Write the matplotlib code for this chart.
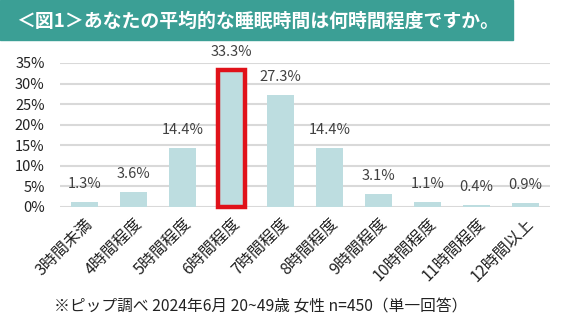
import matplotlib.pyplot as plt
from matplotlib.patches import Rectangle

plt.rcParams['font.family'] = ['Noto Sans CJK JP', 'DejaVu Sans']

categories = ['3時間未満', '4時間程度', '5時間程度', '6時間程度', '7時間程度',
              '8時間程度', '9時間程度', '10時間程度', '11時間程度', '12時間以上']
values = [1.3, 3.6, 14.4, 33.3, 27.3, 14.4, 3.1, 1.1, 0.4, 0.9]
yticks = [0, 5, 10, 15, 20, 25, 30, 35]
highlight = 3

title = '＜図1＞あなたの平均的な睡眠時間は何時間程度ですか。'
note = '※ピップ調べ 2024年6月 20~49歳 女性 n=450（単一回答）'

fig = plt.figure(figsize=(5.75, 3.3), dpi=100)

# title banner
fig.patches.append(Rectangle((0, 1 - 40 / 330), 513 / 575, 40 / 330,
                             transform=fig.transFigure, color='#3b9f95', zorder=0))
fig.text(16 / 575, 1 - 21 / 330, title, color='white', fontsize=13.6,
         fontweight='bold', va='center', ha='left')

ax = fig.add_axes([60 / 575, 123 / 330, 490 / 575, 144 / 330])
x = range(len(categories))
bars = ax.bar(x, values, width=0.55, color='#bddde0', zorder=2)
bars[highlight].set_edgecolor('#e0121a')
bars[highlight].set_linewidth(3.2)
bars[highlight].set_clip_on(False)

for b, v in zip(bars, values):
    ax.annotate(f'{v}%', (b.get_x() + b.get_width() / 2, v), xytext=(0, 8),
                textcoords='offset points', ha='center', va='bottom',
                fontsize=10.5, color='#404040')

ax.set_xlim(-0.5, len(categories) - 0.5)
ax.set_ylim(0, 35)
ax.set_yticks(yticks)
ax.set_yticklabels([f'{t}%' for t in yticks], fontsize=10.5, color='#222222')
ax.set_xticks(list(x))
ax.set_xticklabels(categories, rotation=45, ha='right', rotation_mode='anchor',
                   fontsize=11.5, color='#222222')
ax.tick_params(axis='y', length=0, pad=11)
ax.tick_params(axis='x', length=0, pad=6)
ax.yaxis.grid(True, color='#d9d9d9', linewidth=1.5, zorder=0)
ax.set_axisbelow(True)
for s in ax.spines.values():
    s.set_visible(False)

fig.text(261 / 575, 1 - 307 / 330, note, fontsize=11.3, color='#222222',
         ha='center', va='center')

fig.savefig('out.png', dpi=100)
